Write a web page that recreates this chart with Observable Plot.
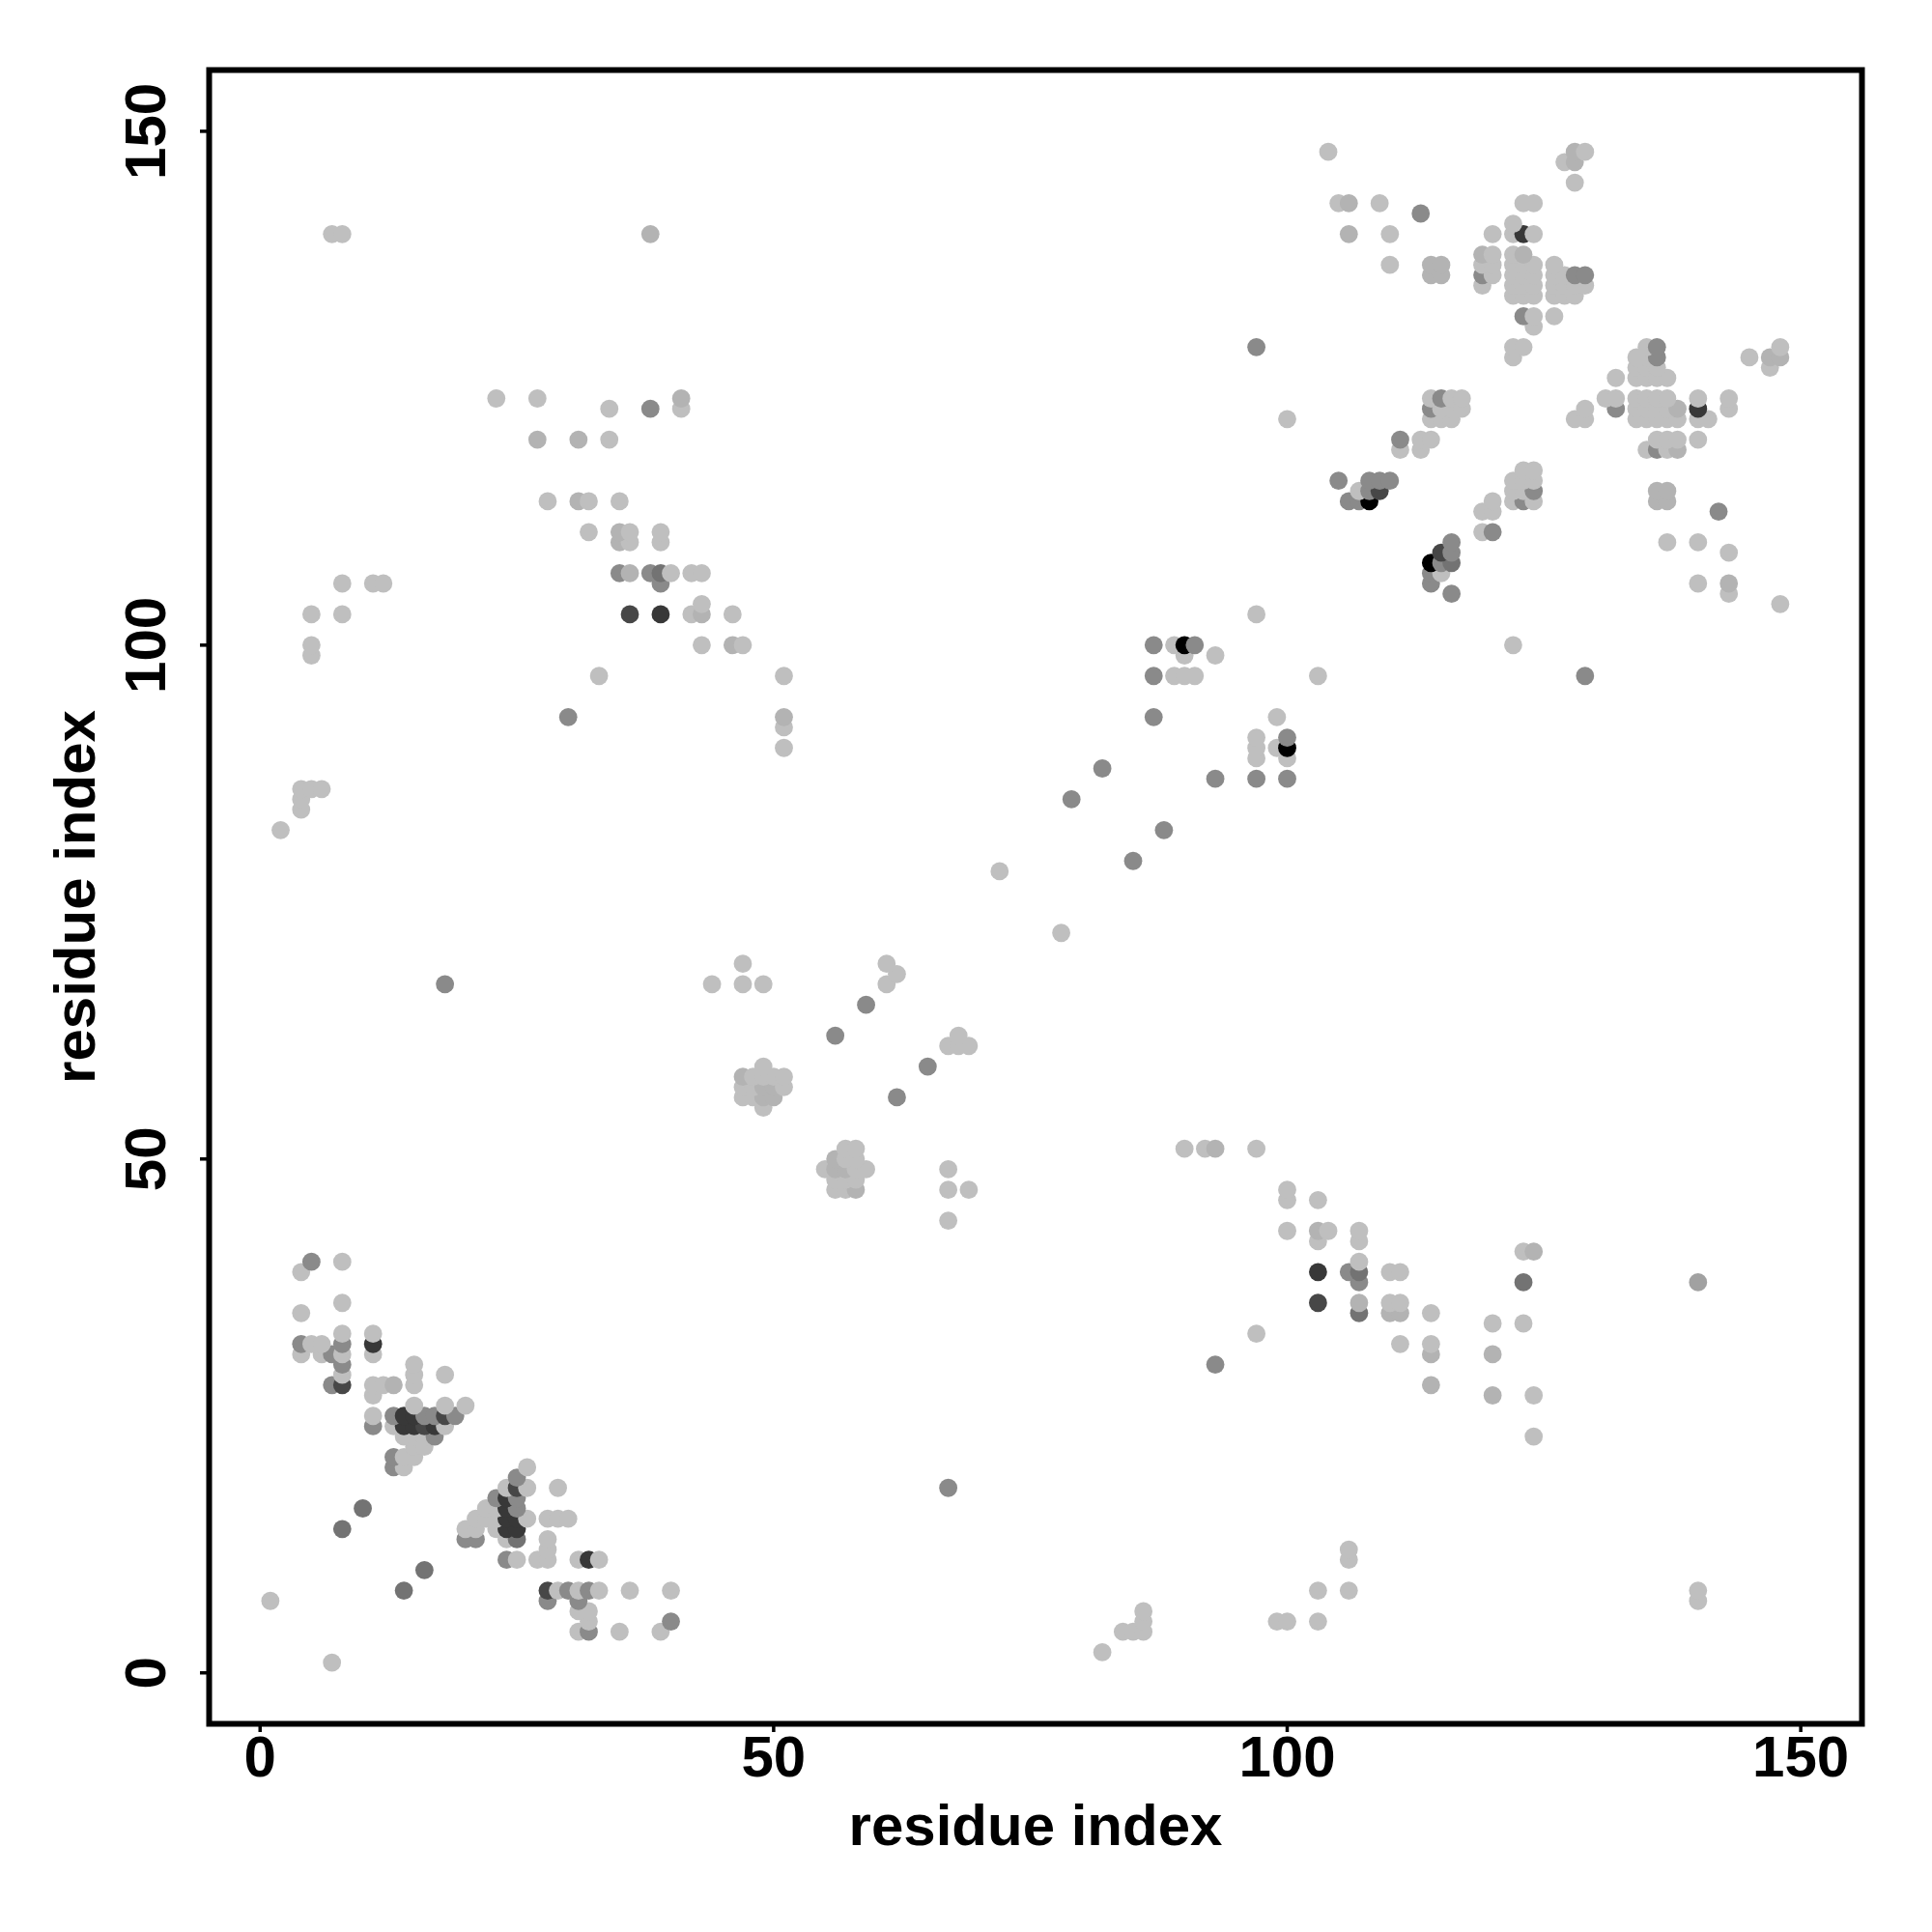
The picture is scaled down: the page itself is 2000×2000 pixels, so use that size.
<!DOCTYPE html>
<html><head><meta charset="utf-8">
<style>html,body{margin:0;padding:0;background:#fff}svg{display:block}</style>
<script src="https://cdn.jsdelivr.net/npm/d3@7"></script>
<script src="https://cdn.jsdelivr.net/npm/@observablehq/plot@0.6"></script>
</head><body><div id="chart"></div>
<script>
const L=.25,K=.3,P=.37,M=.46,N=.55,E=.72,D=.78,B=1;
const xTicks=[0,50,100,150];
const yTicks=[0,50,100,150];
const axisTitle="residue index";
const rowY=[1,2,4,5,6,7,8,10,11,12,13,14,15,16,17,18,19,20,21,22,23,24,25,26,27,28,29,30,31,32,33,34,35,36,38,39,40,41,42,43,44,46,47,48,49,50,51,55,56,57,58,59,61,62,65,67,68,69,72,78,79,82,84,85,86,87,88,89,90,91,92,93,97,99,100,103,104,105,106,107,108,109,110,111,113,114,115,116,117,119,120,122,123,124,126,127,128,129,131,132,134,135,136,137,138,140,141,142,143,145,147,148];
const rowX=[[7],[82],[31,32,35,39,84,85,86],[32,40,86,99,100,103],[31,32,86],[1,28,31,140],[14,28,29,30,31,32,33,36,40,103,106,140],[16],[24,25,27,28,31,32,33,106],[28,106],[20,21,24,25,28],[8,20,21,23,24,25],[21,22,23,24,25,26,28,29,30],[10,22,23,24,25],[23,24,25],[24,25,26,29,67],[25],[13,14,26],[13,14,15],[15,16],[14,15,16,17,124],[11,13,14,15,16,17,18],[11,13,14,15,16,17,18,19],[15,18,20],[11,120,124],[7,8,11,12,13,15,114],[8,15,18],[8,15,93],[4,6,7,8,11,114,120],[4,5,6,8,11,111,114],[8,11,97],[120,123],[4,107,110,111,114],[8,103,107,110,111],[107,123,140],[4,103,106,107,110,111],[5,8,107],[123,124],[103,107],[100,103,104,107],[67],[100,103],[56,57,58,67,69,100],[56,57,58],[55,56,57,58,59,67],[56,57,58],[57,58,90,92,93,97],[49],[47,48,49,50,62],[47,48,49,50,51],[47,48,49,50,51],[49,65],[67,68,69],[56,68],[59],[18,44,47,49,61],[62],[47,61],[78],[72],[85],[2,88],[4],[4,79],[4,5,6],[93,97,100],[82],[97,100],[51,97,99,100],[97,100],[51],[30,51,87,99],[33,51,87,89,90,91,103,129],[5,90,93],[5,43,46,47,87,89,90,91,122],[5,8,36,39,42,43,46,97],[43,148],[116,143],[8,11,12,39,114,140,143],[35,36,38,39,40,42,43,114,115],[114,115,116],[115,116,143],[35,36,39,116,137,140],[32,35,36,39,119,120],[119,120,142],[28,31,32,35,106,107,108,120,122,123,124,136,137],[107,108,109,122,123,124,136,137],[105,108,109,110,122,123,124],[123,124],[111,113,135,136,137,138],[27,31,34,111,113,114,136,137,138,140],[100,114,115,116,128,129,134,135,136,137,138,140,141],[34,38,41,114,115,116,117,129,132,134,135,136,137,138,140,143],[23,27,41,114,115,116,117,131,132,134,135,136,137,140,143],[132,134,135,136,137],[134,135,136,147],[122,134,135,136,145,147,148],[97,122,123,135,136,148],[124],[123,124,126],[122,123,124,126,127,128],[119,122,123,124,126,127,128,129],[114,115,119,120,122,123,124,126,127,128,129],[110,114,115,119,120,122,123,124,126],[119,120,122,123],[7,8,38,106,110,120,122,123,124],[122],[113],[105,106,109,123,124],[128],[127,128],[104,128,129]];
const rowShade=[[L],[L],[L,M,L,L,L,L,L],[L,M,L,L,L,L],[L,L,L],[L,M,M,L],[N,E,L,M,L,M,L,L,L,L,L,L],[N],[M,L,L,L,L,D,L,L],[L,L],[M,M,L,N,L],[N,L,L,L,D,D],[L,L,L,D,D,L,L,L,L],[N,L,L,D,M],[M,D,M],[L,E,L,L,M],[M],[M,L,L],[M,L,L],[L,L],[L,L,L,M,L],[M,L,D,D,E,D,L],[L,M,D,D,M,M,E,M],[L,L,L],[L,K,L],[M,E,L,L,K,L,K],[L,L,L],[M,L,M],[L,L,M,L,L,K,K],[M,L,L,M,D,L,L],[L,L,L],[L,L],[L,N,K,K,L],[L,E,K,L,L],[M,N,P],[L,D,M,N,L,L],[M,L,L],[L,K],[L,L],[L,K,L,L],[L],[L,L],[L,L,K,L,L,L],[L,L,L],[L,K,K,L,L,L],[K,L,L],[L,L,L,L,K,L],[L],[L,L,K,K,M],[L,L,K,K,L],[K,L,L,L,L],[L,M],[L,L,L],[M,L],[M],[M,L,L,L,L],[L],[L,L],[L],[L],[M],[L,M],[L],[L,M],[L,L,L],[M,M,M],[M],[L,L],[L,L,L,B],[L,M],[L],[M,K,M,L],[L,L,M,L,L,L,L,M],[L,L,L],[L,L,K,L,M,L,B,M,L],[L,L,E,D,L,K,L,L],[L,L],[M,L],[L,L,L,M,M,L,K],[M,K,M,N,L,L,L,M,L],[B,M,N],[E,M,L],[K,L,L,M,L,L],[L,K,L,L,L,M],[L,L,M],[L,K,L,L,M,M,B,L,L,M,L,K,K],[L,M,E,L,L,M,K,K],[M,M,M,M,L,L,L],[L,L],[L,L,L,M,L,K],[K,K,L,M,L,L,L,L,L,L],[L,L,L,L,L,L,L,L,L,L,L,L,L],[L,M,L,M,L,L,L,L,M,L,L,L,L,K,D,L],[L,L,K,L,M,L,L,L,L,L,L,L,L,L,L],[L,L,L,L,L],[L,L,L,L],[L,L,L,M,L,K,K],[M,L,L,L,M,L],[L],[M,L,L],[L,L,L,L,L,L],[L,L,L,L,L,L,L,L],[K,K,M,L,L,L,L,L,L,M,M],[L,K,K,L,L,L,L,L,L],[K,L,L,K],[L,L,K,K,L,L,L,D,L],[L],[M],[L,K,L,L,L],[L],[L,K],[L,K,L]];
const contacts=rowY.flatMap((y,i)=>rowX[i].map((x,j)=>({x,y,shade:rowShade[i][j]})));
const chart=Plot.plot({
  width:2000,height:2000,marginLeft:216,marginRight:73,marginTop:72,marginBottom:216,
  style:{background:"#fff",fontFamily:"'Liberation Sans',sans-serif",overflow:"visible"},
  x:{domain:[-4.96,155.96]},
  y:{domain:[-4.96,155.96]},
  color:{type:"linear",domain:[0,1],range:["#ffffff","#000000"]},
  marks:[
    Plot.dot(contacts,{x:"x",y:"y",fill:"shade",r:9.4}),
    Plot.frame({stroke:"#000",strokeWidth:6}),
    Plot.axisX({ticks:xTicks,tickSize:9,tickPadding:3,fontSize:60,fontWeight:"bold",strokeWidth:3.5,label:axisTitle,labelArrow:"none",labelAnchor:"center",labelOffset:125,color:"#000"}),
    Plot.axisY({ticks:yTicks,tickSize:9,tickPadding:37,fontSize:60,fontWeight:"bold",strokeWidth:3.5,tickRotate:-90,textAnchor:"middle",label:axisTitle,labelArrow:"none",labelAnchor:"center",labelOffset:161,color:"#000"})
  ]
});
document.getElementById("chart").appendChild(chart);
</script></body></html>
